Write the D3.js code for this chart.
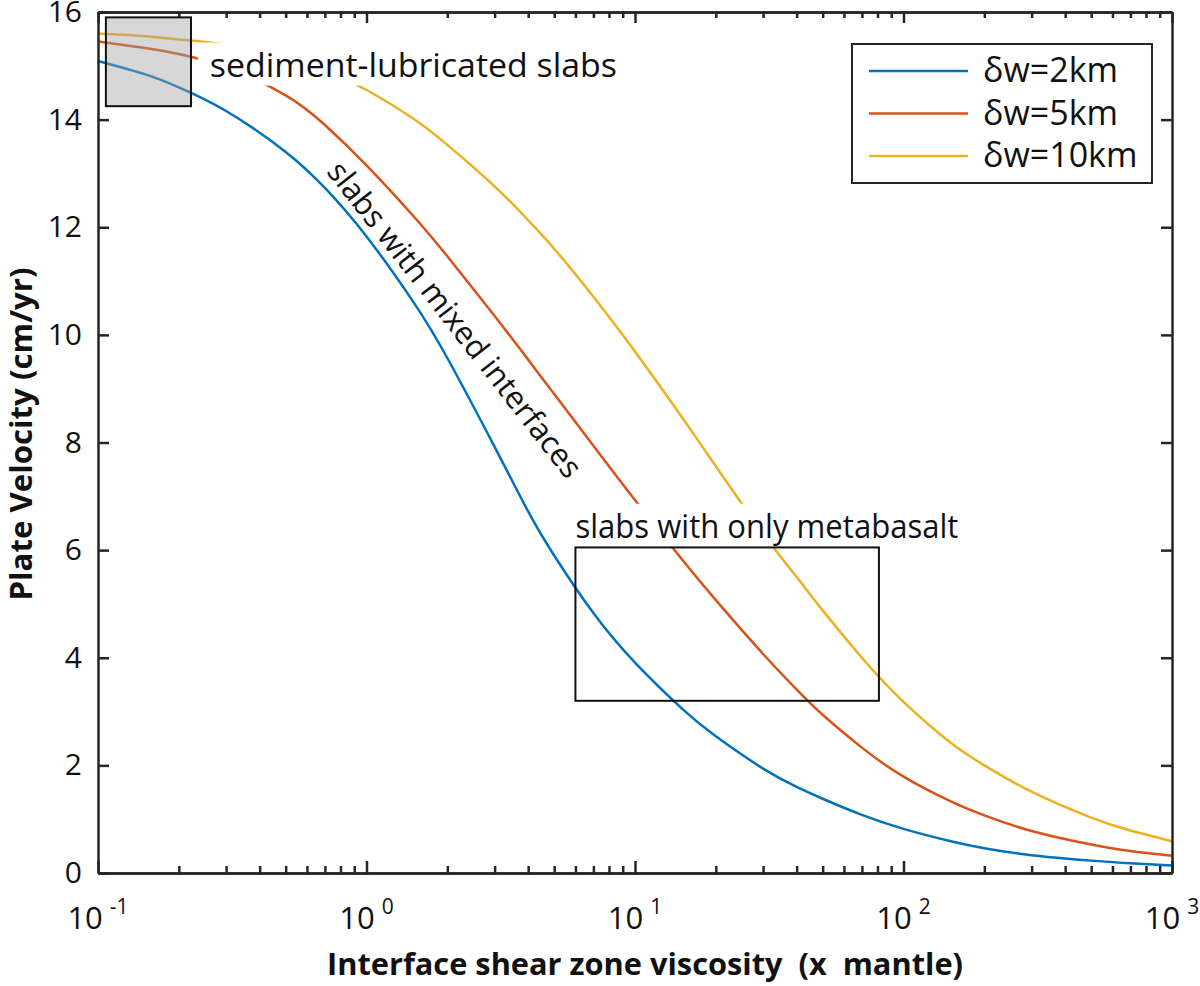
<!DOCTYPE html>
<html>
<head>
<meta charset="utf-8">
<script src="https://cdn.jsdelivr.net/npm/d3@7"></script>
<style>
body { margin: 0; background: #fff; }
text { font-family: 'Open Sans', sans-serif; fill: #111; }
</style>
</head>
<body>
<div id="chart"></div>
<script>
// viscosity relative to mantle (log axis)
var viscosity = [0.1, 0.15, 0.2, 0.3, 0.5, 0.7, 1, 1.5, 2, 3, 4, 5, 7, 10, 15, 20, 30, 40, 50, 70, 100, 150, 200, 300, 500, 700, 1000];

// plate velocity (cm/yr) for each interface width
var velocity2km  = [15.09, 14.84, 14.6, 14.16, 13.4, 12.73, 11.83, 10.6, 9.57, 7.92, 6.72, 5.9, 4.83, 3.91, 3.05, 2.54, 1.94, 1.6, 1.38, 1.08, 0.82, 0.59, 0.46, 0.33, 0.23, 0.18, 0.14];
var velocity5km  = [15.45, 15.33, 15.22, 14.97, 14.45, 13.9, 13.15, 12.2, 11.46, 10.35, 9.54, 8.9, 7.94, 6.93, 5.82, 5.07, 4.07, 3.41, 2.94, 2.33, 1.79, 1.33, 1.07, 0.78, 0.53, 0.41, 0.32];
var velocity10km = [15.6, 15.55, 15.49, 15.39, 15.14, 14.91, 14.55, 14.01, 13.53, 12.76, 12.13, 11.6, 10.71, 9.69, 8.46, 7.56, 6.31, 5.5, 4.88, 4.0, 3.18, 2.42, 2.0, 1.51, 1.03, 0.79, 0.59];

var seriesNames = ['\u03b4w=2km', '\u03b4w=5km', '\u03b4w=10km'];
var seriesColors = ['#0072BD', '#D95319', '#EDB120'];

var xMajorTicks = [0.1, 1, 10, 100, 1000];
var xTickExponents = ['-1', '0', '1', '2', '3'];
var yTicks = [0, 2, 4, 6, 8, 10, 12, 14, 16];

// annotation regions, in data units
var sedimentBox = {x0: 0.107, x1: 0.222, y0: 14.25, y1: 15.9};
var metabasaltBox = {x0: 6, x1: 81, y0: 3.2, y1: 6.05};

var margin = {top: 12, right: 28, bottom: 113, left: 98};
var width = 1200 - margin.left - margin.right,
    height = 986 - margin.top - margin.bottom;

var svg = d3.select('#chart').append('svg')
    .attr('width', 1200)
    .attr('height', 986)
    .style('background', '#fff');

var x = d3.scaleLog().domain([0.1, 1000]).range([0, width]);
var y = d3.scaleLinear().domain([0, 16]).range([height, 0]);

var g = svg.append('g').attr('transform', `translate(${margin.left}, ${margin.top})`);

var xMinorTicks = [];
xMajorTicks.slice(0, -1).forEach(d => {
    for (var k = 2; k < 10; k++) xMinorTicks.push(d * k);
});

var axisColor = '#262626';

function styleAxis(sel) {
    sel.select('.domain').attr('stroke', axisColor).attr('stroke-width', 2.5);
    sel.selectAll('.tick line').attr('stroke', axisColor).attr('stroke-width', 2.5);
    sel.selectAll('.tick text').remove();
}

// curves
var line = d3.line()
    .x((d) => x(d[0]))
    .y((d) => y(d[1]))
    .curve(d3.curveNatural);

[velocity2km, velocity5km, velocity10km].forEach((vals, i) => {
    g.append('path')
        .datum(viscosity.map((v, j) => [v, vals[j]]))
        .attr('d', line)
        .attr('fill', 'none')
        .attr('stroke', seriesColors[i])
        .attr('stroke-width', 2.5);
});

// axes (ticks pointing inward)
g.append('g')
    .attr('transform', `translate(0, ${height})`)
    .call(d3.axisBottom(x).tickValues(xMinorTicks).tickSizeInner(-7).tickSizeOuter(0))
    .call(styleAxis);
g.append('g')
    .attr('transform', `translate(0, ${height})`)
    .call(d3.axisBottom(x).tickValues(xMajorTicks).tickSizeInner(-12).tickSizeOuter(0))
    .call(styleAxis);
g.append('g')
    .call(d3.axisTop(x).tickValues(xMinorTicks).tickSizeInner(-6).tickSizeOuter(0))
    .call(styleAxis);
g.append('g')
    .call(d3.axisTop(x).tickValues(xMajorTicks).tickSizeInner(-11).tickSizeOuter(0))
    .call(styleAxis);

g.append('g')
    .call(d3.axisLeft(y).tickValues(yTicks).tickSizeInner(-11).tickSizeOuter(0).tickPadding(16))
    .call(a => a.select('.domain').attr('stroke', axisColor).attr('stroke-width', 2.5))
    .call(a => a.selectAll('.tick line').attr('stroke', axisColor).attr('stroke-width', 2.5))
    .call(a => a.selectAll('.tick text')
        .style('font-family', "'Open Sans', sans-serif")
        .style('font-size', '30px')
        .attr('fill', '#111'));
g.append('g')
    .attr('transform', `translate(${width}, 0)`)
    .call(d3.axisRight(y).tickValues(yTicks).tickSizeInner(-11).tickSizeOuter(0))
    .call(styleAxis);

// x tick labels 10^n
var xLabels = g.append('g').selectAll('text')
    .data(xMajorTicks)
    .enter().append('text')
    .attr('x', d => x(d))
    .attr('y', height + 56)
    .attr('text-anchor', 'middle')
    .style('font-size', '31px');
xLabels.append('tspan').text('10');
xLabels.append('tspan')
    .attr('dx', 7)
    .attr('dy', -15)
    .style('font-size', '21px')
    .text((d, i) => xTickExponents[i]);

// axis titles
svg.append('text')
    .attr('x', 645)
    .attr('y', 975)
    .attr('text-anchor', 'middle')
    .attr('textLength', 636)
    .attr('lengthAdjust', 'spacingAndGlyphs')
    .style('white-space', 'pre')
    .style('font-weight', 'bold')
    .style('font-size', '31px')
    .text('Interface shear zone viscosity  (x  mantle)');

svg.append('text')
    .attr('transform', 'translate(32, 434) rotate(-90)')
    .attr('text-anchor', 'middle')
    .attr('textLength', 333)
    .attr('lengthAdjust', 'spacingAndGlyphs')
    .style('font-weight', 'bold')
    .style('font-size', '30px')
    .text('Plate Velocity (cm/yr)');

// annotation texts with white backing
function addLabel(txt, xv, yv, len) {
    var lg = g.append('g');
    var bg = lg.append('rect').attr('fill', '#fff');
    var t = lg.append('text')
        .attr('x', x(xv))
        .attr('y', y(yv))
        .attr('textLength', len)
        .attr('lengthAdjust', 'spacingAndGlyphs')
        .style('font-size', '32px')
        .text(txt);
    var bb = t.node().getBBox();
    bg.attr('x', bb.x - 12).attr('y', bb.y)
        .attr('width', bb.width + 24).attr('height', bb.height);
}
addLabel('sediment-lubricated slabs', 0.261, 14.8, 407);
addLabel('slabs with only metabasalt', 6, 6.23, 383);

g.append('text')
    .attr('transform', `translate(${x(2.15)}, ${y(10.3)}) rotate(52)`)
    .attr('text-anchor', 'middle')
    .attr('dominant-baseline', 'central')
    .style('font-size', '31px')
    .text('slabs with mixed interfaces');

// highlighted regions
g.append('rect')
    .attr('x', x(sedimentBox.x0))
    .attr('y', y(sedimentBox.y1))
    .attr('width', x(sedimentBox.x1) - x(sedimentBox.x0))
    .attr('height', y(sedimentBox.y0) - y(sedimentBox.y1))
    .attr('fill', 'rgba(160,160,160,0.42)')
    .attr('stroke', '#111')
    .attr('stroke-width', 2);

g.append('rect')
    .attr('x', x(metabasaltBox.x0))
    .attr('y', y(metabasaltBox.y1))
    .attr('width', x(metabasaltBox.x1) - x(metabasaltBox.x0))
    .attr('height', y(metabasaltBox.y0) - y(metabasaltBox.y1))
    .attr('fill', 'none')
    .attr('stroke', '#111')
    .attr('stroke-width', 2);

// legend
var legend = g.append('g').attr('transform', `translate(${width - 320}, 32)`);
legend.append('rect')
    .attr('width', 300)
    .attr('height', 139)
    .attr('fill', '#fff')
    .attr('stroke', axisColor)
    .attr('stroke-width', 2);
seriesNames.forEach((name, i) => {
    var ly = 27 + i * 42.5;
    legend.append('line')
        .attr('x1', 17).attr('x2', 116)
        .attr('y1', ly).attr('y2', ly)
        .attr('stroke', seriesColors[i])
        .attr('stroke-width', 2.5);
    legend.append('text')
        .attr('x', 131)
        .attr('y', ly + 11)
        .style('font-size', '34px')
        .text(name);
});
</script>
</body>
</html>
